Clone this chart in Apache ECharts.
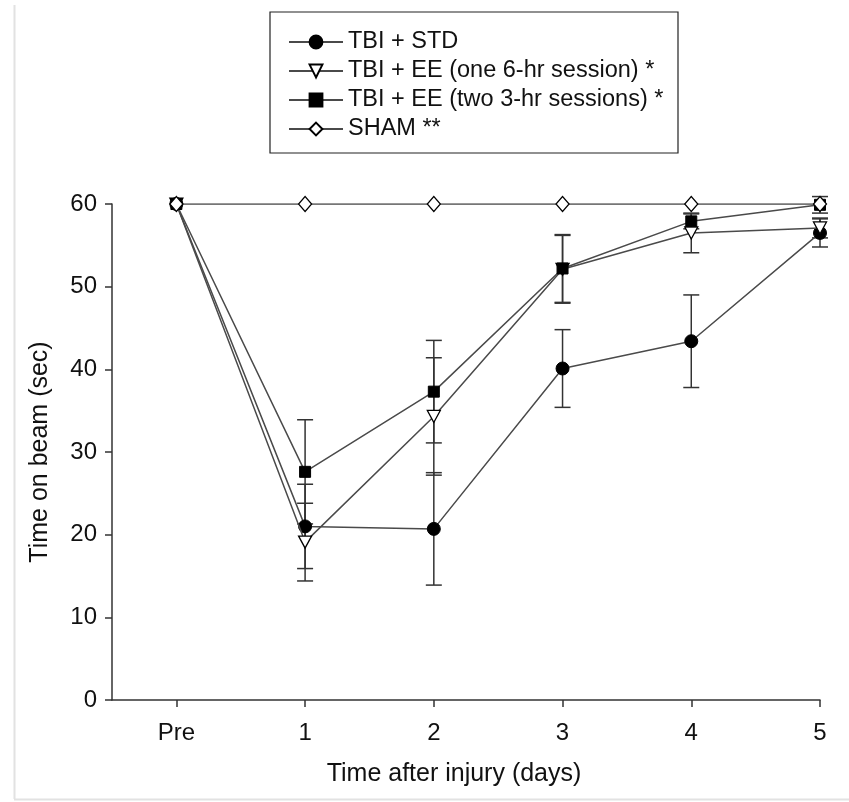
<!DOCTYPE html>
<html>
<head>
<meta charset="utf-8">
<script src="https://cdn.jsdelivr.net/npm/echarts@6/dist/echarts.min.js"></script>
<style>
html,body{margin:0;padding:0;background:#fff;}
#chart{width:849px;height:802px;}
</style>
</head>
<body>
<div id="chart"></div>
<script>
// ---- data ----
const xValues = [0, 1, 2, 3, 4, 5];
const xLabels = ['Pre', '1', '2', '3', '4', '5'];
const seriesNames = ['TBI + STD', 'TBI + EE (one 6-hr session) *', 'TBI + EE (two 3-hr sessions) *', 'SHAM **'];
const stdMean = [60, 21.0, 20.7, 40.1, 43.4, 56.5];
const stdSem  = [0, 5.1, 6.8, 4.7, 5.6, 1.7];
const ee1Mean = [60, 19.1, 34.3, 52.1, 56.5, 57.1];
const ee1Sem  = [0, 4.7, 7.1, 4.1, 2.4, 1.2];
const ee2Mean = [60, 27.6, 37.3, 52.2, 57.9, 59.9];
const ee2Sem  = [0, 6.3, 6.2, 4.1, 0.9, 1.0];
const shamMean = [60, 60, 60, 60, 60, 60];
const shamSem  = [0, 0, 0, 0, 0, 0];
const yTicks = [0, 10, 20, 30, 40, 50, 60];

const font = 'Liberation Sans, Arial, sans-serif';
const lineCol = '#4a4a4a';

function pts(mean) { return xValues.map((x, i) => [x, mean[i]]); }
function errData(mean, sem) {
  return xValues.map((x, i) => [x, mean[i] - sem[i], mean[i] + sem[i], sem[i]]);
}
function errSeries(mean, sem) {
  return {
    type: 'custom',
    silent: true,
    z: 1,
    data: errData(mean, sem),
    encode: { x: 0, y: [1, 2] },
    renderItem: function (params, api) {
      if (api.value(3) <= 0) return null;
      const x = api.value(0);
      const lo = api.coord([x, api.value(1)]);
      const hi = api.coord([x, api.value(2)]);
      const hw = 8;
      const st = { stroke: '#333', lineWidth: 1.5 };
      return {
        type: 'group',
        children: [
          { type: 'line', shape: { x1: lo[0], y1: lo[1], x2: hi[0], y2: hi[1] }, style: st },
          { type: 'line', shape: { x1: lo[0] - hw, y1: lo[1], x2: lo[0] + hw, y2: lo[1] }, style: st },
          { type: 'line', shape: { x1: hi[0] - hw, y1: hi[1], x2: hi[0] + hw, y2: hi[1] }, style: st }
        ]
      };
    }
  };
}

const chart = echarts.init(document.getElementById('chart'), null, { renderer: 'canvas' });
const option = {
  backgroundColor: '#fff',
  animation: false,
  textStyle: { fontFamily: font },
  grid: { left: 112, right: 29, top: 204, bottom: 102, containLabel: false },
  legend: {
    orient: 'vertical',
    left: 283,
    top: 25,
    itemWidth: 54,
    itemHeight: 16,
    itemGap: 5,
    itemTextGap: 13,
    data: seriesNames,
    textStyle: { fontSize: 23.5, color: '#111', fontFamily: font, lineHeight: 22 },
    selectedMode: false
  },
  graphic: [
    { type: 'rect', shape: { x: 270, y: 12, width: 408, height: 141 }, style: { fill: 'none', stroke: '#222', lineWidth: 1.2 }, silent: true },
    { type: 'line', shape: { x1: 14.5, y1: 5, x2: 14.5, y2: 799 }, style: { stroke: '#e2e2e2', lineWidth: 2 }, silent: true },
    { type: 'line', shape: { x1: 14, y1: 799.5, x2: 849, y2: 799.5 }, style: { stroke: '#e2e2e2', lineWidth: 2 }, silent: true }
  ],
  xAxis: {
    type: 'value',
    min: -0.5,
    max: 5,
    name: 'Time after injury (days)',
    nameLocation: 'middle',
    nameGap: 62,
    nameTextStyle: { fontSize: 25, color: '#111', padding: [0, 24, 0, 0] },
    axisLine: { show: true, onZero: false, lineStyle: { color: '#333', width: 1.5 } },
    axisTick: { show: true, inside: false, length: 7, lineStyle: { color: '#333', width: 1.5 }, customValues: xValues },
    axisLabel: {
      fontSize: 24, color: '#111', margin: 21,
      customValues: xValues,
      formatter: function (v) { const i = xValues.indexOf(Math.round(v)); return i >= 0 ? xLabels[i] : ''; }
    },
    splitLine: { show: false }
  },
  yAxis: {
    type: 'value',
    min: 0,
    max: 60,
    interval: 10,
    name: 'Time on beam (sec)',
    nameLocation: 'middle',
    nameGap: 59,
    nameTextStyle: { fontSize: 25, color: '#111' },
    axisLine: { show: true, onZero: false, lineStyle: { color: '#333', width: 1.5 } },
    axisTick: { show: true, length: 7, lineStyle: { color: '#333', width: 1.5 } },
    axisLabel: { fontSize: 24, color: '#111', margin: 15 },
    splitLine: { show: false }
  },
  series: [
    errSeries(stdMean, stdSem),
    errSeries(ee1Mean, ee1Sem),
    errSeries(ee2Mean, ee2Sem),
    errSeries(shamMean, shamSem),
    {
      name: seriesNames[0], type: 'line', z: 3, data: pts(stdMean),
      symbol: 'circle', symbolSize: 13,
      lineStyle: { color: lineCol, width: 1.5 },
      itemStyle: { color: '#000', borderColor: '#000', borderWidth: 1 }
    },
    {
      name: seriesNames[1], type: 'line', z: 4, data: pts(ee1Mean),
      symbol: 'triangle', symbolRotate: 180, symbolSize: [13, 12],
      lineStyle: { color: lineCol, width: 1.5 },
      itemStyle: { color: '#fff', borderColor: '#000', borderWidth: 1.3 }
    },
    {
      name: seriesNames[2], type: 'line', z: 5, data: pts(ee2Mean),
      symbol: 'rect', symbolSize: 11,
      lineStyle: { color: lineCol, width: 1.5 },
      itemStyle: { color: '#000', borderColor: '#000', borderWidth: 1 }
    },
    {
      name: seriesNames[3], type: 'line', z: 6, data: pts(shamMean),
      symbol: 'diamond', symbolSize: [13, 15],
      lineStyle: { color: lineCol, width: 1.5 },
      itemStyle: { color: '#fff', borderColor: '#000', borderWidth: 1.3 }
    }
  ]
};
chart.setOption(option);
</script>
</body>
</html>
